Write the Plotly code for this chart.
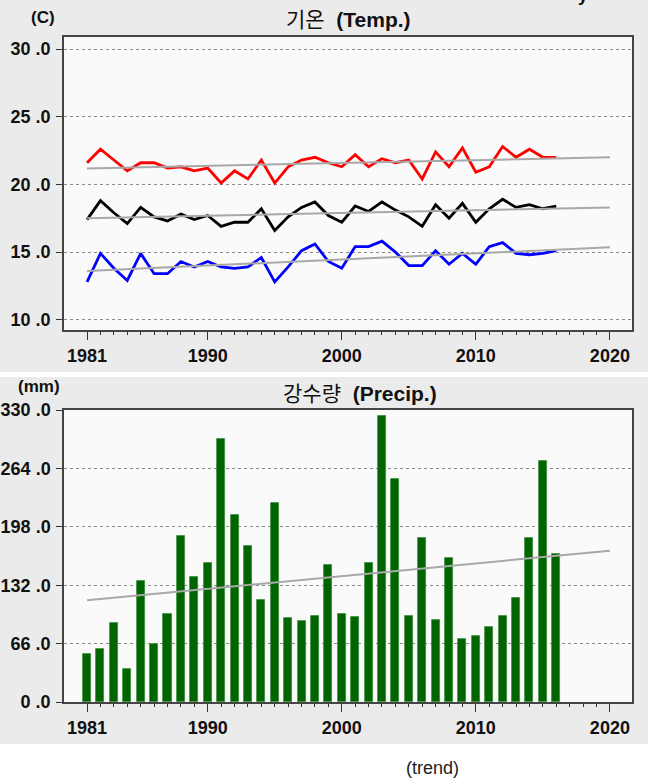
import plotly.graph_objects as go

# yearly values 1981-2016
years = list(range(1981, 2017))

t_max = [21.6, 22.6, 21.8, 21.0, 21.6, 21.6, 21.2, 21.3, 21.0, 21.2,
         20.1, 21.0, 20.4, 21.8, 20.1, 21.3, 21.8, 22.0, 21.6, 21.3,
         22.2, 21.3, 21.9, 21.6, 21.8, 20.4, 22.4, 21.3, 22.7, 20.9,
         21.3, 22.8, 22.0, 22.6, 22.0, 22.0]

t_avg = [17.4, 18.8, 17.9, 17.1, 18.3, 17.6, 17.3, 17.8, 17.4, 17.7,
         16.9, 17.2, 17.2, 18.2, 16.6, 17.6, 18.3, 18.7, 17.7, 17.2,
         18.4, 18.0, 18.7, 18.1, 17.6, 16.9, 18.5, 17.5, 18.6, 17.2,
         18.2, 18.9, 18.3, 18.5, 18.2, 18.4]

t_min = [12.8, 14.9, 13.8, 12.9, 14.9, 13.4, 13.4, 14.3, 13.9, 14.3,
         13.9, 13.8, 13.9, 14.6, 12.8, 13.9, 15.1, 15.6, 14.3, 13.8,
         15.4, 15.4, 15.8, 15.0, 14.0, 14.0, 15.1, 14.1, 14.9, 14.1,
         15.4, 15.7, 14.9, 14.8, 14.9, 15.1]

precip = [54.7, 60.3, 89.4, 37.7, 137.3, 66.0, 99.6, 187.8, 141.8, 156.9,
          296.8, 211.6, 176.5, 115.4, 224.8, 94.7, 91.3, 97.7, 154.6, 99.6,
          96.5, 157.6, 323.2, 251.9, 97.3, 185.5, 92.8, 162.9, 70.9, 74.7,
          85.2, 97.3, 117.7, 184.8, 272.6, 167.8]

# trend lines (end points)
trend_years = [1981, 2020]
trend_max = [21.18, 22.0]
trend_avg = [17.5, 18.3]
trend_min = [13.6, 15.35]
trend_precip = [115.0, 171.0]

temp_ticks = [10, 15, 20, 25, 30]
temp_labels = ["10 .0", "15 .0", "20 .0", "25 .0", "30 .0"]
rain_ticks = [0, 66, 132, 198, 264, 330]
rain_labels = ["0 .0", "66 .0", "132 .0", "198 .0", "264 .0", "330 .0"]
year_ticks = [1981, 1990, 2000, 2010, 2020]

W, H = 648, 783


def px_x(p):
    return p / W


def px_y(p):
    return 1 - p / H


fig = go.Figure()

for vals, col in [(t_max, "#ff0000"), (t_avg, "#000000"), (t_min, "#0000ff")]:
    fig.add_trace(go.Scatter(x=years, y=vals, mode="lines",
                             line=dict(color=col, width=2.8),
                             xaxis="x", yaxis="y"))

for tr in [trend_max, trend_avg, trend_min]:
    fig.add_trace(go.Scatter(x=trend_years, y=tr, mode="lines",
                             line=dict(color="#a8a8a8", width=2),
                             xaxis="x", yaxis="y"))

fig.add_trace(go.Bar(x=years, y=precip, width=0.6,
                     marker=dict(color="#006400", line=dict(color="#3c8c3c", width=0.8)),
                     xaxis="x2", yaxis="y2"))
fig.add_trace(go.Scatter(x=trend_years, y=trend_precip, mode="lines",
                         line=dict(color="#a8a8a8", width=2),
                         xaxis="x2", yaxis="y2"))

tickfont = dict(family="Liberation Sans, Arial", size=18, color="#111111", weight="bold")

xcommon = dict(
    range=[1979.28, 2021.65],
    tickmode="array", tickvals=year_ticks,
    ticks="outside", ticklen=8, tickwidth=1.2, tickcolor="#333333",
    minor=dict(tickmode="array",
               tickvals=[y for y in range(1982, 2020)],
               ticks="outside", ticklen=3, tickcolor="#333333", tickwidth=1),
    showgrid=False, zeroline=False, automargin=False,
    showline=True, mirror=True, linecolor="#444444", linewidth=1.5,
    tickfont=tickfont, ticklabelstandoff=1,
    domain=[px_x(64), px_x(632)],
)
ycommon = dict(
    tickmode="array",
    ticks="outside", ticklen=6, tickwidth=1.2, tickcolor="#333333",
    showgrid=True, gridcolor="#8a8a8a", griddash="dot", gridwidth=1,
    zeroline=False, automargin=False,
    showline=True, mirror=True, linecolor="#444444", linewidth=1.5,
    tickfont=tickfont, ticklabelstandoff=2,
)

shapes = [
    dict(type="rect", xref="paper", yref="paper", x0=0, x1=1,
         y0=px_y(372), y1=1, fillcolor="#ebebeb", line=dict(width=0), layer="below"),
    dict(type="rect", xref="paper", yref="paper", x0=0, x1=1,
         y0=px_y(744), y1=px_y(377), fillcolor="#ebebeb", line=dict(width=0), layer="below"),
    dict(type="rect", xref="x domain", yref="y domain", x0=0, x1=1, y0=0, y1=1,
         fillcolor="#fafafa", line=dict(width=0), layer="below"),
    dict(type="rect", xref="x2 domain", yref="y2 domain", x0=0, x1=1, y0=0, y1=1,
         fillcolor="#fafafa", line=dict(width=0), layer="below"),
]

label_font = dict(family="Liberation Sans, Noto Sans CJK KR", size=21, color="#111111")
unit_font = dict(family="Liberation Sans, Arial", size=17, color="#111111")
annotations = [
    dict(text="기온  <b>(Temp.)</b>", x=px_x(348), y=px_y(20)),
    dict(text="<b>(C)</b>", x=px_x(43), y=px_y(18), font=unit_font),
    dict(text="강수량  <b>(Precip.)</b>", x=px_x(360), y=px_y(393)),
    dict(text="<b>(mm)</b>", x=px_x(39), y=px_y(386), font=unit_font),
    dict(text="(trend)", x=px_x(432), y=px_y(768),
         font=dict(family="Liberation Sans, Arial", size=18, color="#222222")),
    # descender of a cut-off word at the top edge of the source image
    dict(text="<b>y</b>", x=px_x(583), y=px_y(7), yanchor="bottom",
         font=dict(family="Liberation Sans, Arial", size=18, color="#111111")),
]
for a in annotations:
    a.setdefault("font", label_font)
    a.update(xref="paper", yref="paper", showarrow=False, xanchor="center")
    a.setdefault("yanchor", "middle")

fig.update_layout(
    width=W, height=H,
    margin=dict(l=0, r=0, t=0, b=0),
    paper_bgcolor="#ffffff",
    plot_bgcolor="rgba(0,0,0,0)",
    showlegend=False,
    bargap=0,
    xaxis=dict(xcommon, anchor="y"),
    yaxis=dict(ycommon, range=[9.24, 30.89], tickvals=temp_ticks, ticktext=temp_labels,
               domain=[px_y(330), px_y(37)], anchor="x"),
    xaxis2=dict(xcommon, anchor="y2"),
    yaxis2=dict(ycommon, range=[0, 330], tickvals=rain_ticks, ticktext=rain_labels,
                domain=[px_y(702), px_y(410)], anchor="x2"),
    shapes=shapes,
    annotations=annotations,
)

# drop the browser's default page margin so the figure sits at (0, 0)
fig.write_html("out.html", config={"displayModeBar": False},
               post_script="document.body.style.margin='0';document.body.style.overflow='hidden';")
